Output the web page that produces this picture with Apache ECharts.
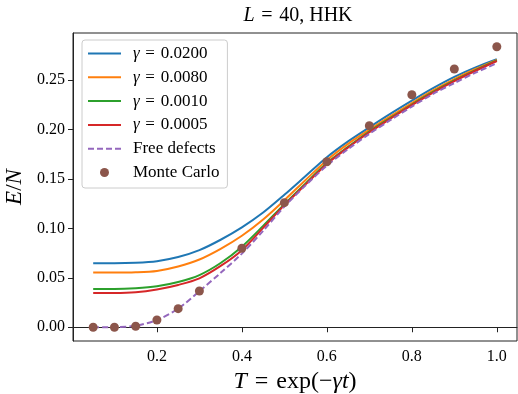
<!DOCTYPE html>
<html>
<head>
<meta charset="utf-8">
<script src="https://cdn.jsdelivr.net/npm/echarts@6/dist/echarts.min.js"></script>
<style>
  html, body {margin: 0; padding: 0; background: #fff;}
  #chart {width: 518px; height: 394px;}
</style>
</head>
<body>
<div id="chart"></div>
<script>
// temperature grid for the model curves
const tValues = [0.05, 0.10, 0.15, 0.20, 0.25, 0.30, 0.35, 0.40, 0.45, 0.50,
                 0.55, 0.60, 0.65, 0.70, 0.75, 0.80, 0.85, 0.90, 0.95, 1.00];

const gamma0200 = [0.0647, 0.0647, 0.0652, 0.0668, 0.0710, 0.0780, 0.0885, 0.1010, 0.1160, 0.1340,
                   0.1530, 0.1720, 0.1880, 0.2022, 0.2160, 0.2292, 0.2418, 0.2532, 0.2628, 0.2710];
const gamma0080 = [0.0553, 0.0553, 0.0556, 0.0570, 0.0615, 0.0685, 0.0793, 0.0925, 0.1090, 0.1285,
                   0.1490, 0.1690, 0.1855, 0.1998, 0.2135, 0.2268, 0.2395, 0.2510, 0.2612, 0.2705];
const gamma0010 = [0.0387, 0.0387, 0.0395, 0.0415, 0.0458, 0.0528, 0.0650, 0.0815, 0.1025, 0.1245,
                   0.1455, 0.1660, 0.1825, 0.1980, 0.2118, 0.2253, 0.2380, 0.2496, 0.2600, 0.2698];
const gamma0005 = [0.0347, 0.0347, 0.0354, 0.0382, 0.0428, 0.0495, 0.0620, 0.0780, 0.1005, 0.1235,
                   0.1445, 0.1652, 0.1818, 0.1972, 0.2111, 0.2246, 0.2373, 0.2489, 0.2594, 0.2693];
const freeDefects = [0.0000, 0.0002, 0.0015, 0.0073, 0.0188, 0.0365, 0.0550, 0.0745, 0.0975, 0.1220,
                     0.1435, 0.1635, 0.1802, 0.1956, 0.2097, 0.2232, 0.2360, 0.2470, 0.2575, 0.2670];

// Monte Carlo samples
const mcT = [0.05, 0.10, 0.15, 0.20, 0.25, 0.30, 0.40, 0.50, 0.60, 0.70, 0.80, 0.90, 1.00];
const mcEnergy = [0.0000, 0.0000, 0.0010, 0.0073, 0.0188, 0.0367, 0.0799, 0.1260, 0.1674, 0.2038, 0.2352, 0.2612, 0.2837];

const xTicks = [0.2, 0.4, 0.6, 0.8, 1.0];
const yTicks = [0.00, 0.05, 0.10, 0.15, 0.20, 0.25];

const serif = '"Liberation Serif", "DejaVu Serif", serif';
const pairs = ys => tValues.map((t, i) => [t, ys[i]]);
const eq = '\u2004=\u2004';

const lineSeries = (name, color, ys, dashed) => ({
  name,
  type: 'line',
  data: pairs(ys),
  symbol: 'none',
  smooth: 0.3,
  lineStyle: {color, width: 2, type: dashed ? [6, 3] : 'solid'},
  itemStyle: {color},
  z: 2,
});

const chart = echarts.init(document.getElementById('chart'), null, {renderer: 'canvas'});

const noDot = name => ({name, itemStyle: {opacity: 0}});

chart.setOption({
  animation: false,
  backgroundColor: '#fff',
  textStyle: {fontFamily: serif},
  title: {
    text: '{i|L}' + eq + '40, HHK',
    left: 293,
    top: 1,
    textAlign: 'center',
    textStyle: {
      fontFamily: serif, fontSize: 20, fontWeight: 'normal', color: '#000',
      rich: {i: {fontFamily: serif, fontSize: 20, fontStyle: 'italic', color: '#000'}},
    },
  },
  grid: {
    left: 73, right: 1, top: 33, bottom: 53,
    show: true, borderColor: '#222', borderWidth: 1,
    outerBoundsMode: 'none',
  },
  legend: {
    orient: 'vertical',
    left: 82,
    top: 40,
    padding: [5, 8, 7, 5],
    itemWidth: 33,
    itemHeight: 9,
    itemGap: 6.8,
    backgroundColor: 'rgba(255,255,255,0.8)',
    borderColor: '#cccccc',
    borderWidth: 1,
    borderRadius: 3,
    formatter: name => name.startsWith('γ')
      ? '{s|}{i|γ}{t|' + name.slice(1).replace(' = ', eq) + '}'
      : '{s|}{t|' + name + '}',
    textStyle: {
      fontFamily: serif, fontSize: 17, color: '#000', lineHeight: 17,
      rich: {
        s: {width: 7},
        i: {fontFamily: serif, fontSize: 17, fontStyle: 'italic', lineHeight: 17, color: '#000'},
        t: {fontFamily: serif, fontSize: 17, lineHeight: 17, color: '#000'},
      },
    },
    data: [noDot('γ = 0.0200'), noDot('γ = 0.0080'), noDot('γ = 0.0010'), noDot('γ = 0.0005'),
           noDot('Free defects'), 'Monte Carlo'],
  },
  xAxis: {
    type: 'value',
    min: 0.0025,
    max: 1.0475,
    name: '{i|T}' + eq + 'exp(−{i|γt})',
    nameLocation: 'middle',
    nameGap: 25,
    nameTextStyle: {
      fontFamily: serif, fontSize: 24, color: '#000', verticalAlign: 'top',
      rich: {i: {fontFamily: serif, fontSize: 24, fontStyle: 'italic', color: '#000'}},
    },
    axisLine: {show: true, lineStyle: {color: '#222', width: 1}},
    axisTick: {show: true, length: 5, lineStyle: {color: '#222'}, customValues: xTicks},
    axisLabel: {
      color: '#000', fontSize: 16, margin: 8, fontFamily: serif,
      customValues: xTicks,
      formatter: v => v.toFixed(1),
    },
    splitLine: {show: false},
  },
  yAxis: {
    type: 'value',
    min: -0.0139,
    max: 0.2976,
    name: '{i|E}/{i|N}',
    nameLocation: 'middle',
    nameGap: 44,
    nameTextStyle: {
      fontFamily: serif, fontSize: 23, color: '#000',
      rich: {i: {fontFamily: serif, fontSize: 23, fontStyle: 'italic', color: '#000'}},
    },
    axisLine: {show: true, lineStyle: {color: '#222', width: 1}},
    axisTick: {show: true, length: 5, lineStyle: {color: '#222'}, customValues: yTicks},
    axisLabel: {
      color: '#000', fontSize: 16, margin: 8, fontFamily: serif,
      customValues: yTicks,
      formatter: v => v.toFixed(2),
    },
    splitLine: {show: false},
  },
  series: [
    lineSeries('γ = 0.0200', '#1f77b4', gamma0200),
    lineSeries('γ = 0.0080', '#ff7f0e', gamma0080),
    lineSeries('γ = 0.0010', '#2ca02c', gamma0010),
    lineSeries('γ = 0.0005', '#d62728', gamma0005),
    lineSeries('Free defects', '#9467bd', freeDefects, true),
    {
      name: 'Monte Carlo',
      type: 'scatter',
      data: mcT.map((t, i) => [t, mcEnergy[i]]),
      symbol: 'circle',
      symbolSize: 9,
      itemStyle: {color: '#8c564b', opacity: 1},
      z: 3,
    },
  ],
});
</script>
</body>
</html>
